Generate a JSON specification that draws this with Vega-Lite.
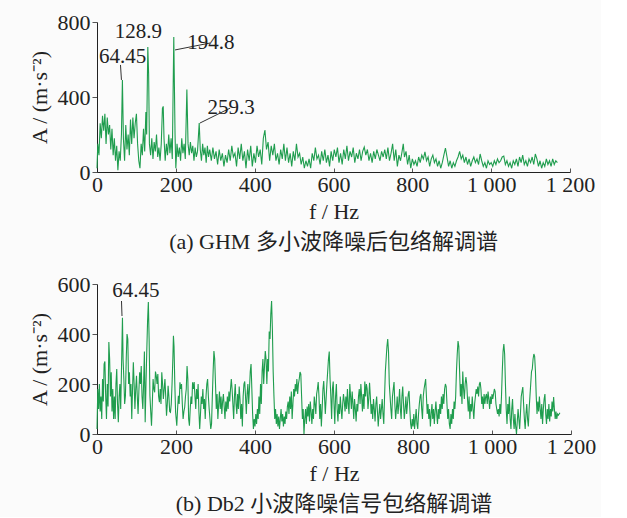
{
  "$schema": "https://vega.github.io/schema/vega-lite/v6.json",
  "background": "#fbfbfb",
  "padding": {"left": 28, "top": 11, "right": 5, "bottom": 2},
  "columns": 1,
  "align": "none",
  "spacing": 20,
  "config": {
    "view": {"stroke": null},
    "axis": {"grid": false, "labelFlush": false, "domainColor": "#222", "tickColor": "#555", "labelFont": "Liberation Serif", "labelFontSize": 22, "labelColor": "#222", "titleFont": "Liberation Serif", "titleFontSize": 22, "titleFontWeight": "normal", "titleColor": "#222"},
    "title": {"font": "Liberation Serif, Noto Sans CJK SC", "fontSize": 22, "fontWeight": "normal", "color": "#222"}
  },
  "datasets": {
    "a": [
{"f":0,"A":20},{"f":2,"A":150},{"f":5,"A":90},{"f":8,"A":260},{"f":11,"A":180},{"f":14,"A":300},{"f":17,"A":220},{"f":20,"A":310},{"f":23,"A":150},{"f":26,"A":290},{"f":29,"A":200},{"f":32,"A":250},{"f":35,"A":120},{"f":38,"A":230},{"f":41,"A":90},{"f":44,"A":180},{"f":47,"A":60},{"f":50,"A":140},{"f":53,"A":10},{"f":56,"A":110},{"f":59,"A":60},{"f":62,"A":200},{"f":64.45,"A":490},{"f":67,"A":180},{"f":70,"A":60},{"f":73,"A":250},{"f":76,"A":120},{"f":79,"A":200},{"f":82,"A":90},{"f":85,"A":280},{"f":88,"A":150},{"f":91,"A":290},{"f":94,"A":180},{"f":97,"A":260},{"f":100,"A":310},{"f":103,"A":150},{"f":106,"A":60},{"f":109,"A":20},{"f":112,"A":150},{"f":115,"A":90},{"f":118,"A":230},{"f":121,"A":110},{"f":124,"A":320},{"f":126,"A":200},{"f":128.9,"A":667},{"f":131,"A":520},{"f":133,"A":150},{"f":136,"A":90},{"f":139,"A":180},{"f":142,"A":70},{"f":145,"A":160},{"f":148,"A":110},{"f":151,"A":200},{"f":154,"A":80},{"f":157,"A":130},{"f":160,"A":60},{"f":163,"A":150},{"f":166,"A":340},{"f":168,"A":350},{"f":170,"A":180},{"f":173,"A":60},{"f":176,"A":150},{"f":179,"A":90},{"f":182,"A":200},{"f":185,"A":100},{"f":188,"A":180},{"f":191,"A":70},{"f":194.8,"A":720},{"f":196,"A":520},{"f":198,"A":200},{"f":200,"A":20},{"f":203,"A":150},{"f":206,"A":80},{"f":209,"A":130},{"f":212,"A":60},{"f":215,"A":180},{"f":218,"A":100},{"f":221,"A":150},{"f":224,"A":70},{"f":228,"A":440},{"f":231,"A":150},{"f":234,"A":90},{"f":237,"A":160},{"f":240,"A":100},{"f":243,"A":140},{"f":246,"A":60},{"f":249,"A":130},{"f":252,"A":80},{"f":255,"A":110},{"f":259.3,"A":261},{"f":262,"A":120},{"f":265,"A":60},{"f":268,"A":150},{"f":271,"A":90},{"f":274,"A":130},{"f":277,"A":50},{"f":280,"A":140},{"f":283,"A":80},{"f":286,"A":120},{"f":290,"A":60},{"f":294,"A":130},{"f":298,"A":70},{"f":302,"A":110},{"f":306,"A":40},{"f":310,"A":120},{"f":314,"A":60},{"f":318,"A":100},{"f":322,"A":30},{"f":326,"A":90},{"f":330,"A":50},{"f":334,"A":120},{"f":338,"A":60},{"f":342,"A":140},{"f":346,"A":80},{"f":350,"A":100},{"f":354,"A":30},{"f":358,"A":130},{"f":362,"A":70},{"f":366,"A":150},{"f":370,"A":60},{"f":374,"A":110},{"f":378,"A":20},{"f":382,"A":120},{"f":386,"A":60},{"f":390,"A":140},{"f":394,"A":30},{"f":398,"A":100},{"f":402,"A":50},{"f":406,"A":140},{"f":410,"A":80},{"f":414,"A":120},{"f":418,"A":40},{"f":422,"A":180},{"f":426,"A":224},{"f":430,"A":120},{"f":434,"A":160},{"f":438,"A":60},{"f":442,"A":140},{"f":446,"A":90},{"f":450,"A":150},{"f":454,"A":60},{"f":458,"A":100},{"f":462,"A":40},{"f":466,"A":120},{"f":470,"A":70},{"f":474,"A":150},{"f":478,"A":60},{"f":482,"A":130},{"f":486,"A":50},{"f":490,"A":100},{"f":494,"A":30},{"f":498,"A":110},{"f":502,"A":60},{"f":506,"A":150},{"f":510,"A":80},{"f":514,"A":100},{"f":518,"A":40},{"f":522,"A":80},{"f":526,"A":20},{"f":530,"A":60},{"f":534,"A":30},{"f":538,"A":70},{"f":542,"A":20},{"f":546,"A":100},{"f":550,"A":60},{"f":554,"A":130},{"f":558,"A":70},{"f":562,"A":90},{"f":566,"A":40},{"f":570,"A":110},{"f":574,"A":60},{"f":578,"A":120},{"f":582,"A":50},{"f":586,"A":90},{"f":590,"A":30},{"f":594,"A":110},{"f":598,"A":60},{"f":602,"A":120},{"f":606,"A":80},{"f":610,"A":130},{"f":614,"A":50},{"f":618,"A":100},{"f":622,"A":40},{"f":626,"A":120},{"f":630,"A":70},{"f":634,"A":140},{"f":638,"A":60},{"f":642,"A":110},{"f":646,"A":80},{"f":650,"A":130},{"f":654,"A":50},{"f":658,"A":100},{"f":662,"A":70},{"f":666,"A":120},{"f":670,"A":60},{"f":674,"A":110},{"f":678,"A":133},{"f":682,"A":90},{"f":686,"A":120},{"f":690,"A":60},{"f":694,"A":100},{"f":698,"A":50},{"f":702,"A":110},{"f":706,"A":70},{"f":710,"A":120},{"f":714,"A":90},{"f":718,"A":60},{"f":722,"A":110},{"f":726,"A":80},{"f":730,"A":120},{"f":734,"A":70},{"f":738,"A":130},{"f":742,"A":60},{"f":746,"A":100},{"f":750,"A":150},{"f":754,"A":60},{"f":758,"A":120},{"f":762,"A":30},{"f":766,"A":90},{"f":770,"A":60},{"f":774,"A":110},{"f":777,"A":150},{"f":780,"A":80},{"f":784,"A":110},{"f":788,"A":40},{"f":792,"A":90},{"f":796,"A":20},{"f":800,"A":70},{"f":804,"A":40},{"f":808,"A":60},{"f":812,"A":30},{"f":816,"A":80},{"f":820,"A":50},{"f":824,"A":90},{"f":828,"A":70},{"f":832,"A":107},{"f":836,"A":60},{"f":840,"A":80},{"f":844,"A":30},{"f":848,"A":70},{"f":852,"A":90},{"f":856,"A":50},{"f":860,"A":70},{"f":864,"A":30},{"f":868,"A":60},{"f":872,"A":20},{"f":876,"A":50},{"f":880,"A":90},{"f":884,"A":128},{"f":888,"A":80},{"f":892,"A":30},{"f":896,"A":60},{"f":900,"A":20},{"f":904,"A":50},{"f":908,"A":30},{"f":912,"A":60},{"f":916,"A":80},{"f":920,"A":110},{"f":924,"A":70},{"f":928,"A":90},{"f":932,"A":50},{"f":936,"A":80},{"f":940,"A":40},{"f":944,"A":70},{"f":948,"A":30},{"f":952,"A":60},{"f":956,"A":80},{"f":960,"A":50},{"f":964,"A":70},{"f":968,"A":40},{"f":972,"A":96},{"f":976,"A":60},{"f":980,"A":30},{"f":984,"A":50},{"f":988,"A":20},{"f":992,"A":60},{"f":996,"A":40},{"f":1000,"A":50},{"f":1004,"A":30},{"f":1008,"A":60},{"f":1012,"A":40},{"f":1016,"A":70},{"f":1020,"A":50},{"f":1024,"A":60},{"f":1028,"A":80},{"f":1032,"A":85},{"f":1036,"A":40},{"f":1040,"A":60},{"f":1044,"A":30},{"f":1048,"A":50},{"f":1052,"A":20},{"f":1056,"A":60},{"f":1060,"A":40},{"f":1064,"A":70},{"f":1068,"A":30},{"f":1072,"A":80},{"f":1076,"A":50},{"f":1080,"A":90},{"f":1084,"A":40},{"f":1088,"A":60},{"f":1092,"A":30},{"f":1096,"A":70},{"f":1100,"A":50},{"f":1104,"A":80},{"f":1108,"A":40},{"f":1112,"A":96},{"f":1116,"A":70},{"f":1120,"A":30},{"f":1124,"A":60},{"f":1128,"A":20},{"f":1132,"A":50},{"f":1136,"A":30},{"f":1140,"A":70},{"f":1144,"A":40},{"f":1148,"A":60},{"f":1152,"A":30},{"f":1156,"A":70},{"f":1160,"A":40},{"f":1164,"A":60},{"f":1168,"A":50}
    ],
    "b": [
{"f":0,"A":20},{"f":2,"A":180},{"f":4,"A":100},{"f":6,"A":200},{"f":8,"A":90},{"f":10,"A":150},{"f":12,"A":60},{"f":14,"A":220},{"f":16,"A":130},{"f":18,"A":280},{"f":20,"A":290},{"f":22,"A":150},{"f":24,"A":60},{"f":26,"A":200},{"f":28,"A":110},{"f":30,"A":368},{"f":32,"A":300},{"f":34,"A":150},{"f":36,"A":247},{"f":38,"A":90},{"f":40,"A":180},{"f":42,"A":60},{"f":44,"A":150},{"f":46,"A":60},{"f":48,"A":200},{"f":50,"A":260},{"f":52,"A":120},{"f":54,"A":47},{"f":56,"A":150},{"f":58,"A":200},{"f":60,"A":100},{"f":62,"A":260},{"f":64.45,"A":465},{"f":66,"A":300},{"f":68,"A":220},{"f":70,"A":120},{"f":72,"A":153},{"f":74,"A":300},{"f":76,"A":400},{"f":78,"A":380},{"f":80,"A":200},{"f":82,"A":247},{"f":84,"A":150},{"f":86,"A":200},{"f":88,"A":60},{"f":90,"A":180},{"f":92,"A":287},{"f":94,"A":200},{"f":96,"A":100},{"f":98,"A":180},{"f":100,"A":233},{"f":102,"A":150},{"f":104,"A":80},{"f":106,"A":170},{"f":108,"A":247},{"f":110,"A":200},{"f":112,"A":272},{"f":114,"A":150},{"f":116,"A":100},{"f":118,"A":200},{"f":120,"A":330},{"f":122,"A":47},{"f":124,"A":200},{"f":126,"A":330},{"f":128,"A":450},{"f":130,"A":528},{"f":132,"A":380},{"f":134,"A":153},{"f":136,"A":90},{"f":138,"A":33},{"f":140,"A":120},{"f":142,"A":220},{"f":144,"A":180},{"f":146,"A":167},{"f":148,"A":250},{"f":150,"A":233},{"f":152,"A":200},{"f":154,"A":240},{"f":156,"A":150},{"f":158,"A":127},{"f":160,"A":180},{"f":162,"A":120},{"f":164,"A":247},{"f":166,"A":200},{"f":168,"A":140},{"f":170,"A":180},{"f":172,"A":220},{"f":174,"A":150},{"f":176,"A":73},{"f":178,"A":120},{"f":180,"A":193},{"f":182,"A":150},{"f":184,"A":90},{"f":186,"A":87},{"f":188,"A":120},{"f":190,"A":200},{"f":192,"A":300},{"f":193.5,"A":393},{"f":195,"A":350},{"f":197,"A":200},{"f":199,"A":87},{"f":202,"A":33},{"f":204,"A":100},{"f":206,"A":153},{"f":208,"A":120},{"f":210,"A":207},{"f":212,"A":180},{"f":214,"A":200},{"f":216,"A":120},{"f":218,"A":60},{"f":220,"A":90},{"f":222,"A":107},{"f":224,"A":150},{"f":226,"A":180},{"f":228,"A":272},{"f":230,"A":220},{"f":232,"A":60},{"f":234,"A":33},{"f":236,"A":100},{"f":238,"A":150},{"f":240,"A":120},{"f":242,"A":207},{"f":244,"A":180},{"f":246,"A":208},{"f":248,"A":150},{"f":250,"A":100},{"f":252,"A":180},{"f":254,"A":140},{"f":256,"A":200},{"f":258,"A":90},{"f":260,"A":20},{"f":262,"A":80},{"f":264,"A":150},{"f":266,"A":120},{"f":268,"A":180},{"f":270,"A":100},{"f":272,"A":140},{"f":274,"A":60},{"f":276,"A":150},{"f":278,"A":200},{"f":280,"A":220},{"f":282,"A":150},{"f":284,"A":100},{"f":286,"A":60},{"f":288,"A":20},{"f":290,"A":40},{"f":292,"A":150},{"f":294,"A":250},{"f":296,"A":332},{"f":298,"A":300},{"f":300,"A":200},{"f":302,"A":100},{"f":304,"A":160},{"f":306,"A":60},{"f":308,"A":120},{"f":310,"A":170},{"f":312,"A":100},{"f":314,"A":150},{"f":316,"A":80},{"f":318,"A":130},{"f":320,"A":160},{"f":322,"A":110},{"f":324,"A":60},{"f":326,"A":130},{"f":328,"A":90},{"f":330,"A":150},{"f":332,"A":100},{"f":334,"A":170},{"f":336,"A":130},{"f":338,"A":180},{"f":340,"A":220},{"f":342,"A":180},{"f":344,"A":120},{"f":346,"A":60},{"f":348,"A":150},{"f":350,"A":200},{"f":352,"A":120},{"f":354,"A":80},{"f":356,"A":160},{"f":358,"A":100},{"f":360,"A":190},{"f":362,"A":140},{"f":364,"A":60},{"f":366,"A":120},{"f":368,"A":30},{"f":370,"A":150},{"f":372,"A":200},{"f":374,"A":210},{"f":376,"A":150},{"f":378,"A":80},{"f":380,"A":160},{"f":382,"A":200},{"f":384,"A":120},{"f":386,"A":180},{"f":388,"A":250},{"f":390,"A":280},{"f":392,"A":180},{"f":394,"A":80},{"f":396,"A":20},{"f":398,"A":60},{"f":400,"A":30},{"f":402,"A":80},{"f":404,"A":40},{"f":406,"A":100},{"f":408,"A":60},{"f":410,"A":150},{"f":412,"A":80},{"f":414,"A":200},{"f":416,"A":120},{"f":418,"A":250},{"f":420,"A":300},{"f":422,"A":200},{"f":424,"A":270},{"f":426,"A":332},{"f":428,"A":300},{"f":430,"A":200},{"f":432,"A":300},{"f":434,"A":250},{"f":436,"A":410},{"f":438,"A":380},{"f":440,"A":480},{"f":442,"A":532},{"f":444,"A":420},{"f":446,"A":250},{"f":448,"A":150},{"f":450,"A":60},{"f":452,"A":100},{"f":454,"A":40},{"f":456,"A":80},{"f":458,"A":30},{"f":460,"A":70},{"f":462,"A":20},{"f":464,"A":60},{"f":466,"A":100},{"f":468,"A":50},{"f":470,"A":80},{"f":472,"A":30},{"f":474,"A":70},{"f":476,"A":40},{"f":478,"A":90},{"f":480,"A":60},{"f":482,"A":110},{"f":484,"A":130},{"f":486,"A":80},{"f":488,"A":150},{"f":490,"A":100},{"f":492,"A":170},{"f":494,"A":60},{"f":496,"A":120},{"f":498,"A":180},{"f":500,"A":150},{"f":502,"A":200},{"f":504,"A":170},{"f":506,"A":220},{"f":508,"A":160},{"f":510,"A":200},{"f":512,"A":220},{"f":514,"A":248},{"f":516,"A":240},{"f":518,"A":150},{"f":520,"A":60},{"f":522,"A":100},{"f":524,"A":0},{"f":526,"A":60},{"f":528,"A":100},{"f":530,"A":40},{"f":532,"A":110},{"f":534,"A":70},{"f":536,"A":120},{"f":538,"A":50},{"f":540,"A":130},{"f":542,"A":90},{"f":544,"A":40},{"f":546,"A":100},{"f":548,"A":60},{"f":550,"A":150},{"f":552,"A":120},{"f":554,"A":80},{"f":556,"A":160},{"f":558,"A":180},{"f":560,"A":208},{"f":562,"A":150},{"f":564,"A":60},{"f":566,"A":120},{"f":568,"A":30},{"f":570,"A":100},{"f":572,"A":180},{"f":574,"A":212},{"f":576,"A":150},{"f":578,"A":80},{"f":580,"A":140},{"f":582,"A":200},{"f":584,"A":250},{"f":586,"A":300},{"f":588,"A":330},{"f":590,"A":220},{"f":592,"A":150},{"f":594,"A":60},{"f":596,"A":180},{"f":598,"A":210},{"f":600,"A":120},{"f":602,"A":40},{"f":604,"A":150},{"f":606,"A":200},{"f":608,"A":100},{"f":610,"A":50},{"f":612,"A":120},{"f":614,"A":80},{"f":616,"A":150},{"f":618,"A":100},{"f":620,"A":60},{"f":622,"A":120},{"f":624,"A":160},{"f":626,"A":130},{"f":628,"A":90},{"f":630,"A":150},{"f":632,"A":100},{"f":634,"A":180},{"f":636,"A":120},{"f":638,"A":80},{"f":640,"A":200},{"f":642,"A":150},{"f":644,"A":100},{"f":646,"A":170},{"f":648,"A":120},{"f":650,"A":60},{"f":652,"A":140},{"f":654,"A":100},{"f":656,"A":50},{"f":658,"A":120},{"f":660,"A":90},{"f":662,"A":150},{"f":664,"A":180},{"f":666,"A":120},{"f":668,"A":200},{"f":670,"A":150},{"f":672,"A":90},{"f":674,"A":160},{"f":676,"A":100},{"f":678,"A":210},{"f":680,"A":150},{"f":682,"A":200},{"f":684,"A":180},{"f":686,"A":100},{"f":688,"A":140},{"f":690,"A":205},{"f":692,"A":150},{"f":694,"A":80},{"f":696,"A":120},{"f":698,"A":60},{"f":700,"A":140},{"f":702,"A":100},{"f":704,"A":50},{"f":706,"A":120},{"f":708,"A":150},{"f":710,"A":90},{"f":712,"A":30},{"f":714,"A":80},{"f":716,"A":120},{"f":718,"A":60},{"f":720,"A":100},{"f":722,"A":140},{"f":724,"A":80},{"f":726,"A":40},{"f":728,"A":150},{"f":730,"A":250},{"f":732,"A":300},{"f":734,"A":350},{"f":736,"A":380},{"f":738,"A":330},{"f":740,"A":200},{"f":742,"A":150},{"f":744,"A":100},{"f":746,"A":60},{"f":748,"A":150},{"f":750,"A":180},{"f":752,"A":208},{"f":754,"A":120},{"f":756,"A":60},{"f":758,"A":100},{"f":760,"A":150},{"f":762,"A":80},{"f":764,"A":120},{"f":766,"A":180},{"f":768,"A":100},{"f":770,"A":60},{"f":772,"A":150},{"f":774,"A":190},{"f":776,"A":120},{"f":778,"A":60},{"f":780,"A":100},{"f":782,"A":150},{"f":784,"A":80},{"f":786,"A":120},{"f":788,"A":160},{"f":790,"A":172},{"f":792,"A":100},{"f":794,"A":40},{"f":796,"A":20},{"f":798,"A":60},{"f":800,"A":30},{"f":802,"A":80},{"f":804,"A":20},{"f":806,"A":60},{"f":808,"A":100},{"f":810,"A":40},{"f":812,"A":20},{"f":814,"A":80},{"f":816,"A":120},{"f":818,"A":150},{"f":820,"A":160},{"f":822,"A":100},{"f":824,"A":60},{"f":826,"A":150},{"f":828,"A":180},{"f":830,"A":200},{"f":832,"A":220},{"f":834,"A":150},{"f":836,"A":80},{"f":838,"A":120},{"f":840,"A":60},{"f":842,"A":100},{"f":844,"A":30},{"f":846,"A":80},{"f":848,"A":120},{"f":850,"A":60},{"f":852,"A":100},{"f":854,"A":40},{"f":856,"A":90},{"f":858,"A":130},{"f":860,"A":80},{"f":862,"A":40},{"f":864,"A":100},{"f":866,"A":60},{"f":868,"A":120},{"f":870,"A":80},{"f":872,"A":150},{"f":874,"A":100},{"f":876,"A":160},{"f":878,"A":120},{"f":880,"A":180},{"f":882,"A":200},{"f":884,"A":190},{"f":886,"A":120},{"f":888,"A":60},{"f":890,"A":100},{"f":892,"A":40},{"f":894,"A":20},{"f":896,"A":80},{"f":898,"A":40},{"f":900,"A":100},{"f":902,"A":60},{"f":904,"A":130},{"f":906,"A":100},{"f":908,"A":150},{"f":910,"A":250},{"f":912,"A":320},{"f":914,"A":372},{"f":916,"A":350},{"f":918,"A":250},{"f":920,"A":150},{"f":922,"A":200},{"f":924,"A":120},{"f":926,"A":250},{"f":928,"A":180},{"f":930,"A":140},{"f":932,"A":200},{"f":934,"A":228},{"f":936,"A":200},{"f":938,"A":140},{"f":940,"A":90},{"f":942,"A":150},{"f":944,"A":60},{"f":946,"A":120},{"f":948,"A":90},{"f":950,"A":150},{"f":952,"A":100},{"f":954,"A":60},{"f":956,"A":120},{"f":958,"A":150},{"f":960,"A":180},{"f":962,"A":160},{"f":964,"A":190},{"f":966,"A":150},{"f":968,"A":200},{"f":970,"A":208},{"f":972,"A":180},{"f":974,"A":120},{"f":976,"A":150},{"f":978,"A":100},{"f":980,"A":160},{"f":982,"A":120},{"f":984,"A":150},{"f":986,"A":160},{"f":988,"A":120},{"f":990,"A":170},{"f":992,"A":140},{"f":994,"A":100},{"f":996,"A":150},{"f":998,"A":120},{"f":1000,"A":160},{"f":1002,"A":140},{"f":1004,"A":160},{"f":1006,"A":180},{"f":1008,"A":170},{"f":1010,"A":120},{"f":1012,"A":100},{"f":1014,"A":80},{"f":1016,"A":100},{"f":1018,"A":70},{"f":1020,"A":120},{"f":1022,"A":80},{"f":1024,"A":150},{"f":1026,"A":250},{"f":1028,"A":330},{"f":1030,"A":360},{"f":1032,"A":320},{"f":1034,"A":200},{"f":1036,"A":100},{"f":1038,"A":40},{"f":1040,"A":120},{"f":1042,"A":80},{"f":1044,"A":150},{"f":1046,"A":60},{"f":1048,"A":20},{"f":1050,"A":100},{"f":1052,"A":140},{"f":1054,"A":60},{"f":1056,"A":20},{"f":1058,"A":80},{"f":1060,"A":30},{"f":1062,"A":0},{"f":1064,"A":50},{"f":1066,"A":100},{"f":1068,"A":60},{"f":1070,"A":20},{"f":1072,"A":80},{"f":1074,"A":150},{"f":1076,"A":170},{"f":1078,"A":188},{"f":1080,"A":120},{"f":1082,"A":60},{"f":1084,"A":20},{"f":1086,"A":80},{"f":1088,"A":120},{"f":1090,"A":60},{"f":1092,"A":30},{"f":1094,"A":100},{"f":1096,"A":150},{"f":1098,"A":200},{"f":1100,"A":250},{"f":1102,"A":260},{"f":1104,"A":300},{"f":1106,"A":320},{"f":1108,"A":310},{"f":1110,"A":250},{"f":1112,"A":150},{"f":1114,"A":80},{"f":1116,"A":130},{"f":1118,"A":90},{"f":1120,"A":150},{"f":1122,"A":100},{"f":1124,"A":60},{"f":1126,"A":120},{"f":1128,"A":40},{"f":1130,"A":100},{"f":1132,"A":140},{"f":1134,"A":160},{"f":1136,"A":80},{"f":1138,"A":40},{"f":1140,"A":100},{"f":1142,"A":60},{"f":1144,"A":120},{"f":1146,"A":50},{"f":1148,"A":100},{"f":1150,"A":70},{"f":1152,"A":130},{"f":1154,"A":90},{"f":1156,"A":148},{"f":1158,"A":100},{"f":1160,"A":60},{"f":1162,"A":90},{"f":1164,"A":60},{"f":1166,"A":80},{"f":1168,"A":75},{"f":1172,"A":85}
    ],
    "leadA": [
      {"f":59.6,"A":571,"f2":62,"A2":491},
      {"f":198,"A":651,"f2":287,"A2":688},
      {"f":261,"A":261,"f2":338,"A2":341}
    ],
    "labA": [
      {"f":64.7,"A":613,"label":"64.45","al":"center"},
      {"f":105,"A":747,"label":"128.9","al":"center"},
      {"f":289,"A":688,"label":"194.8","al":"left"},
      {"f":340,"A":341,"label":"259.3","al":"left"}
    ],
    "leadB": [
      {"f":62,"A":532,"f2":63.3,"A2":472}
    ],
    "labB": [
      {"f":98.7,"A":572,"label":"64.45"}
    ]
  },
  "concat": [
    {
      "width": 473,
      "height": 150,
      "title": {"text": "(a) GHM 多小波降噪后包络解调谱", "orient": "bottom", "anchor": "middle", "offset": 10},
      "layer": [
        {
          "data": {"name": "a"},
          "mark": {"type": "line", "color": "#1f9d4e", "strokeWidth": 1.1},
          "encoding": {
            "x": {"field": "f", "type": "quantitative", "scale": {"domain": [0, 1200], "nice": false}, "axis": {"values": [0,200,400,600,800,1000,1200], "title": "f / Hz", "tickSize": -4, "labelPadding": 6, "titlePadding": 6, "labelExpr": "datum.value == 1000 ? '1 000' : datum.value == 1200 ? '1 200' : datum.label"}},
            "y": {"field": "A", "type": "quantitative", "scale": {"domain": [0, 800], "nice": false}, "axis": {"values": [0, 400, 800], "title": "A / (m·s⁻²)", "tickSize": 5, "labelPadding": 2, "titlePadding": 6}}
          }
        },
        {
          "data": {"name": "leadA"},
          "mark": {"type": "rule", "color": "#333", "strokeWidth": 1},
          "encoding": {"x": {"field": "f", "type": "quantitative"}, "y": {"field": "A", "type": "quantitative"}, "x2": {"field": "f2"}, "y2": {"field": "A2"}}
        },
        {
          "data": {"name": "labA"},
          "mark": {"type": "text", "font": "Liberation Serif", "fontSize": 21, "color": "#222", "baseline": "middle"},
          "encoding": {"x": {"field": "f", "type": "quantitative"}, "y": {"field": "A", "type": "quantitative"}, "text": {"field": "label"}, "align": {"field": "al", "type": "nominal", "scale": null}}
        }
      ]
    },
    {
      "width": 474,
      "height": 150,
      "title": {"text": "(b) Db2 小波降噪信号包络解调谱", "orient": "bottom", "anchor": "middle", "offset": 10},
      "layer": [
        {
          "data": {"name": "b"},
          "mark": {"type": "line", "color": "#1f9d4e", "strokeWidth": 1.1},
          "encoding": {
            "x": {"field": "f", "type": "quantitative", "scale": {"domain": [0, 1200], "nice": false}, "axis": {"values": [0,200,400,600,800,1000,1200], "title": "f / Hz", "tickSize": -4, "labelPadding": 6, "titlePadding": 6, "labelExpr": "datum.value == 1000 ? '1 000' : datum.value == 1200 ? '1 200' : datum.label"}},
            "y": {"field": "A", "type": "quantitative", "scale": {"domain": [0, 600], "nice": false}, "axis": {"values": [0, 200, 400, 600], "title": "A / (m·s⁻²)", "tickSize": 5, "labelPadding": 2, "titlePadding": 6}}
          }
        },
        {
          "data": {"name": "leadB"},
          "mark": {"type": "rule", "color": "#333", "strokeWidth": 1},
          "encoding": {"x": {"field": "f", "type": "quantitative"}, "y": {"field": "A", "type": "quantitative"}, "x2": {"field": "f2"}, "y2": {"field": "A2"}}
        },
        {
          "data": {"name": "labB"},
          "mark": {"type": "text", "font": "Liberation Serif", "fontSize": 21, "color": "#222", "baseline": "middle", "align": "center"},
          "encoding": {"x": {"field": "f", "type": "quantitative"}, "y": {"field": "A", "type": "quantitative"}, "text": {"field": "label"}}
        }
      ]
    }
  ]
}
